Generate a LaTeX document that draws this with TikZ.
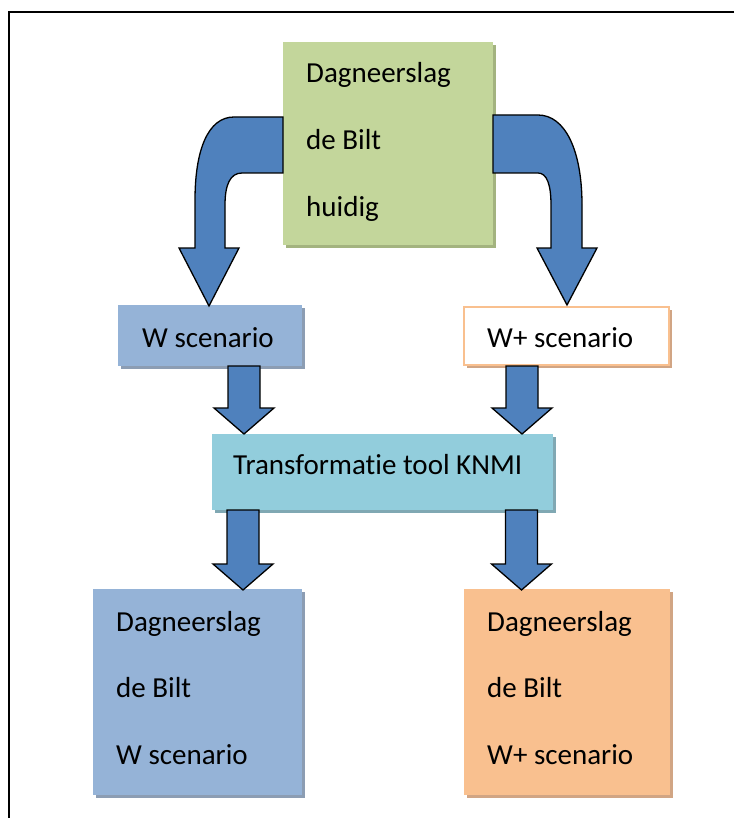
\documentclass[tikz,border=0pt]{standalone}
\usepackage{fontspec}
\setmainfont[Ligatures=NoCommon]{Carlito}
\usetikzlibrary{shadows}
\definecolor{cgreen}{HTML}{C3D69B}
\definecolor{cgreensh}{HTML}{A3B37F}
\definecolor{cblue}{HTML}{95B3D7}
\definecolor{cbluesh}{HTML}{8C9DB3}
\definecolor{ccyan}{HTML}{92CDDC}
\definecolor{ccyansh}{HTML}{80A8B3}
\definecolor{corange}{HTML}{F9C08F}
\definecolor{corangesh}{HTML}{D1A584}
\definecolor{carrow}{HTML}{4F81BD}
\tikzset{
  box/.style={rectangle, draw=none, inner sep=0pt},
  sh/.style={drop shadow={shadow xshift=3pt, shadow yshift=-3pt, fill=#1, opacity=1}},
  blockarrow/.style={fill=carrow, draw=black, line width=1.3pt, line join=miter},
  lbl/.style={anchor=base west, inner sep=0pt, font=\fontsize{29}{35}\selectfont}
}
\newcommand\blkarrow[3]{%
  \filldraw[blockarrow] (#1-16,#2) -- (#1-16,#3-26) -- (#1-30,#3-26) -- (#1,#3)
    -- (#1+30,#3-26) -- (#1+16,#3-26) -- (#1+16,#2) -- cycle;}
\begin{document}
\begin{tikzpicture}[x=1pt,y=-1pt]
\useasboundingbox (0,0) rectangle (734,818);
\fill[white] (0,0) rectangle (734,818);
% frame
\draw[line width=2pt] (734,12) -- (9,12) -- (9,818);

% boxes
\node[box, fill=cgreen, sh=cgreensh, minimum width=210pt, minimum height=203pt] (src) at (388,143.5) {};
\node[box, fill=cblue, sh=cbluesh, minimum width=184pt, minimum height=61pt] (wbox) at (210,335.5) {};
\node[box, fill=white, draw=corange, line width=2pt, sh=corangesh, minimum width=205pt, minimum height=58pt] (wpbox) at (566.5,336) {};
\node[box, fill=ccyan, sh=ccyansh, minimum width=341pt, minimum height=76pt] (tool) at (382.5,472) {};
\node[box, fill=cblue, sh=cbluesh, minimum width=209pt, minimum height=206pt] (outw) at (197.5,692) {};
\node[box, fill=corange, sh=corangesh, minimum width=206pt, minimum height=206pt] (outwp) at (567,692) {};

% texts
\node[lbl] (s1) at (306,83) {Dagneerslag};
\node[lbl] (s2) at (306,149.5) {de Bilt};
\node[lbl] (s3) at (306,216) {huidig};
\node[lbl] (w1) at (142,347) {W scenario};
\node[lbl] (wp1) at (487,347) {W+ scenario};
\node[lbl] (t1) at (233,474) {Transformatie tool KNMI};
\node[lbl] (o1) at (116,631) {Dagneerslag};
\node[lbl] (o2) at (116,697.5) {de Bilt};
\node[lbl] (o3) at (116,764) {W scenario};
\node[lbl] (p1) at (487,631) {Dagneerslag};
\node[lbl] (p2) at (487,697.5) {de Bilt};
\node[lbl] (p3) at (487,764) {W+ scenario};

% curved arrows
\filldraw[blockarrow] (283,117) -- (234,117) .. controls (208,117) and (195,150) .. (195,200)
  -- (195,248) -- (179,248) -- (209,306) -- (239,248) -- (225,248) -- (225,205)
  .. controls (225,185) and (230,173) .. (242,173) -- (283,173) -- cycle;
\filldraw[blockarrow] (493,115) -- (538,115) .. controls (565,115) and (582,150) .. (582,205)
  -- (582,248) -- (597,248) -- (567,305) -- (537,248) -- (551,248) -- (551,205)
  .. controls (551,185) and (547,173) .. (538,173) -- (493,173) -- cycle;

% straight arrows
\blkarrow{244}{366}{434}
\blkarrow{522}{366}{434}
\blkarrow{243}{510}{590}
\blkarrow{521.5}{510}{590}
\end{tikzpicture}
\end{document}
